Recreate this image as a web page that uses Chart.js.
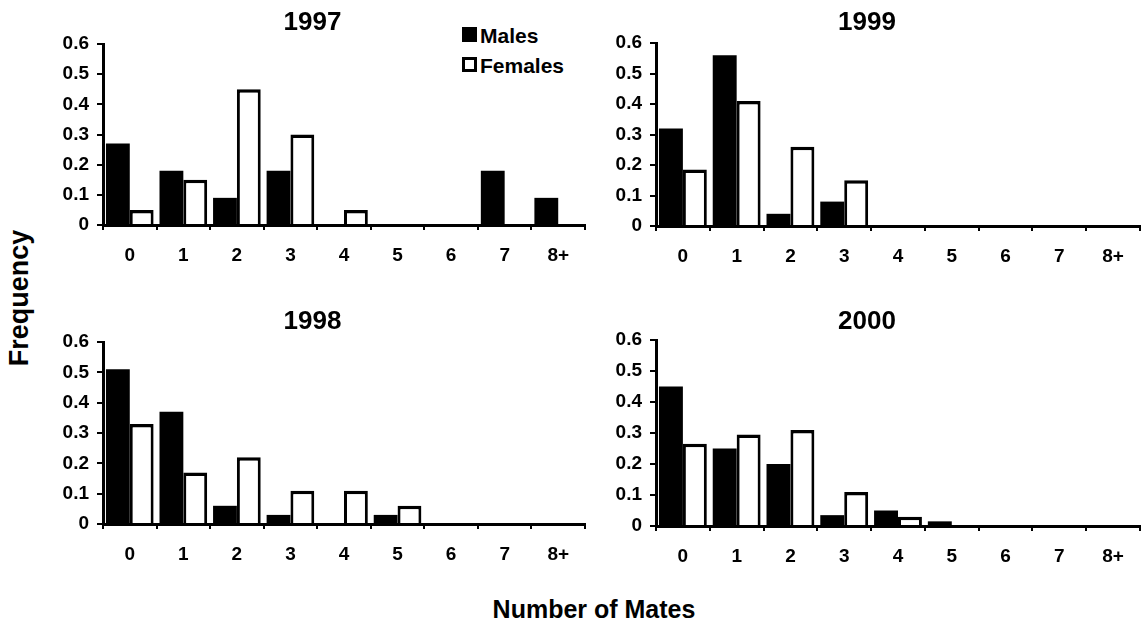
<!DOCTYPE html>
<html>
<head>
<meta charset="utf-8">
<script src="https://cdn.jsdelivr.net/npm/chart.js@4"></script>
<style>
  html, body { margin: 0; padding: 0; background: #fff; }
  body { width: 1144px; height: 629px; position: relative; overflow: hidden;
         font-family: "Liberation Sans", Arial, Helvetica, sans-serif; font-weight: bold; color: #000; }
  canvas { position: absolute; }
  .lbl { position: absolute; white-space: nowrap; font-weight: bold; line-height: 1; }
  .sw { position: absolute; width: 15px; height: 15px; box-sizing: border-box; }
</style>
</head>
<body>
<div class="lbl" id="ylab" style="left:19px; top:298px; font-size:27px; transform: translate(-50%,-50%) rotate(-90deg);">Frequency</div>
<div class="lbl" id="xlab" style="left:594px; top:609px; font-size:25px; transform: translate(-50%,-50%);">Number of Mates</div>
<div id="legend"></div>
<script>
// ---- data ----
const categories = ['0', '1', '2', '3', '4', '5', '6', '7', '8+'];
const yTickLabels = ['0', '0.1', '0.2', '0.3', '0.4', '0.5', '0.6'];
const seriesNames = ['Males', 'Females'];

const males1997   = [0.27, 0.18, 0.09, 0.18, 0, 0, 0, 0.18, 0.09];
const females1997 = [0.05, 0.15, 0.45, 0.30, 0.05, 0, 0, 0, 0];

const males1999   = [0.32, 0.56, 0.04, 0.08, 0, 0, 0, 0, 0];
const females1999 = [0.185, 0.41, 0.26, 0.15, 0, 0, 0, 0, 0];

const males1998   = [0.51, 0.37, 0.06, 0.03, 0, 0.03, 0, 0, 0];
const females1998 = [0.33, 0.17, 0.22, 0.11, 0.11, 0.06, 0, 0, 0];

const males2000   = [0.45, 0.25, 0.20, 0.035, 0.05, 0.015, 0, 0, 0];
const females2000 = [0.265, 0.295, 0.31, 0.11, 0.03, 0, 0, 0, 0];

// ---- layout ----
const FONT = '"Liberation Sans", Arial, Helvetica, sans-serif';
const panels = [
  { title: '1997', males: males1997, females: females1997,
    left: 40,  top: 0,   width: 552, height: 275, yw: 63, padR: 7, tTop: 7.4, tBot: 5.4 },
  { title: '1999', males: males1999, females: females1999,
    left: 594, top: 0,   width: 550, height: 276, yw: 62, padR: 4, tTop: 7.4, tBot: 4.4 },
  { title: '1998', males: males1998, females: females1998,
    left: 40,  top: 300, width: 552, height: 274, yw: 63, padR: 7, tTop: 6.4, tBot: 4.4 },
  { title: '2000', males: males2000, females: females2000,
    left: 594, top: 300, width: 550, height: 276, yw: 62, padR: 4, tTop: 6.4, tBot: 2.4 }
];

panels.forEach(function (p) {
  const c = document.createElement('canvas');
  c.width = p.width; c.height = p.height;
  c.style.left = p.left + 'px'; c.style.top = p.top + 'px';
  c.style.width = p.width + 'px'; c.style.height = p.height + 'px';
  document.body.appendChild(c);

  new Chart(c.getContext('2d'), {
    type: 'bar',
    data: {
      labels: categories,
      datasets: [
        { label: seriesNames[0], data: p.males, backgroundColor: '#000', borderColor: '#000',
          borderWidth: 0, categoryPercentage: 0.89, barPercentage: 1.0 },
        { label: seriesNames[1], data: p.females, backgroundColor: '#fff', borderColor: '#000',
          borderWidth: { top: 3.5, left: 3, right: 3, bottom: 0 }, borderSkipped: 'start',
          categoryPercentage: 0.89, barPercentage: 1.0 }
      ]
    },
    options: {
      responsive: false,
      animation: false,
      devicePixelRatio: 1,
      layout: { padding: { left: 0, right: p.padR, top: 0, bottom: 0 } },
      plugins: {
        legend: { display: false },
        tooltip: { enabled: false },
        title: {
          display: true, text: p.title, color: '#000',
          font: { family: FONT, size: 26, weight: 'bold', lineHeight: 1.2 },
          padding: { top: p.tTop, bottom: p.tBot }
        }
      },
      scales: {
        x: {
          type: 'category', offset: true, z: 1,
          grid: { display: true, offset: true, drawOnChartArea: false, drawTicks: true,
                  tickLength: 5, color: '#000', lineWidth: 2 },
          border: { display: true, color: '#000', width: 3 },
          ticks: { color: '#000', padding: 14, maxRotation: 0, autoSkip: false,
                   font: { family: FONT, size: 19, weight: 'bold' } },
          afterFit: function (s) { s.height = 50; }
        },
        y: {
          min: 0, max: 0.6, z: 1,
          grid: { display: true, drawOnChartArea: false, drawTicks: true,
                  tickLength: 6, color: '#000', lineWidth: 2 },
          border: { display: true, color: '#000', width: 3 },
          ticks: { stepSize: 0.1, color: '#000', padding: 8,
                   font: { family: FONT, size: 19, weight: 'bold' },
                   callback: function (v, i) { return yTickLabels[i]; } },
          afterFit: function (s) { s.width = p.yw; }
        }
      }
    }
  });
});

// ---- legend (for the 1997 panel) ----
const legend = document.getElementById('legend');
const legendRows = [
  { name: seriesNames[0], fill: '#000', border: 'none', y: 35 },
  { name: seriesNames[1], fill: '#fff', border: '3px solid #000', y: 65 }
];
legendRows.forEach(function (r) {
  const sw = document.createElement('div');
  sw.className = 'sw';
  sw.style.left = '462px'; sw.style.top = (r.y - 8) + 'px';
  sw.style.background = r.fill; sw.style.border = r.border;
  legend.appendChild(sw);
  const t = document.createElement('div');
  t.className = 'lbl';
  t.style.left = '480px'; t.style.top = r.y + 'px';
  t.style.fontSize = '21px';
  t.style.transform = 'translateY(-50%)';
  t.textContent = r.name;
  legend.appendChild(t);
});
</script>
</body>
</html>
